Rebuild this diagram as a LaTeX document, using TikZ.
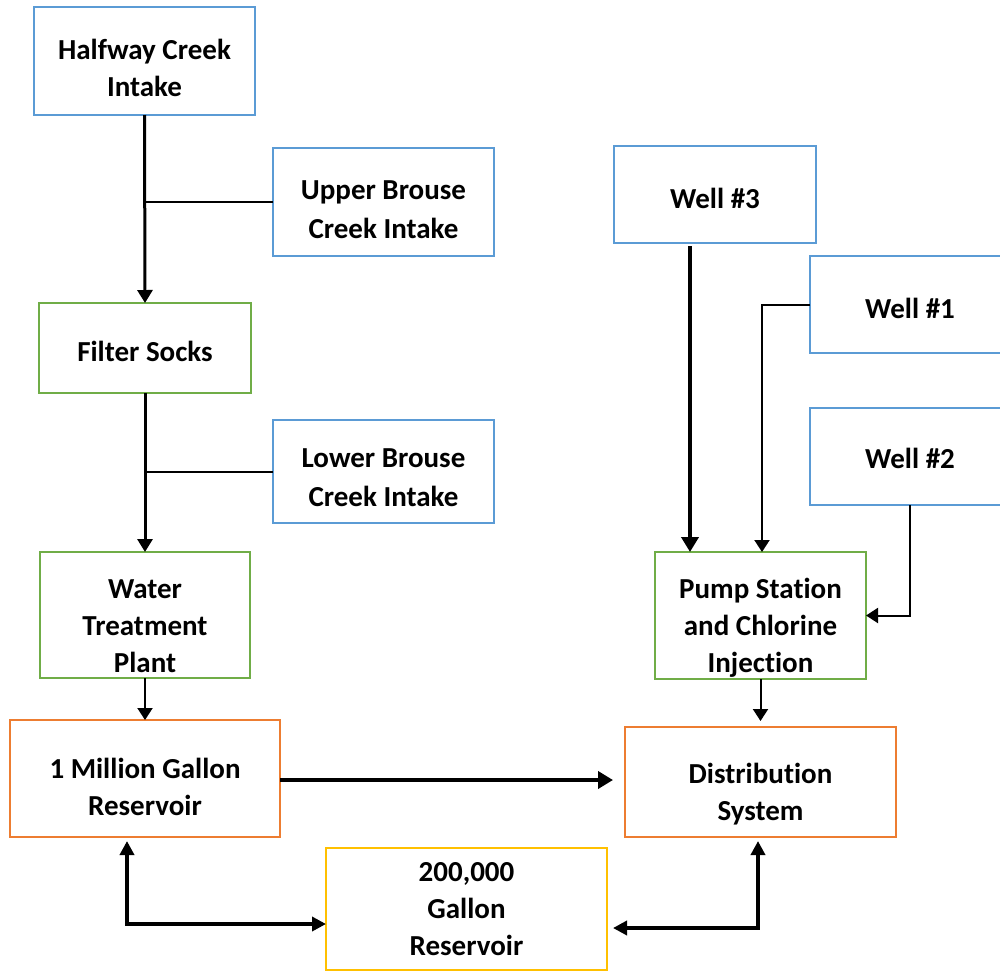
\documentclass[tikz,border=0pt]{standalone}
\usepackage{fontspec}
\setmainfont[Ligatures=NoCommon]{Carlito}
\usetikzlibrary{arrows.meta,calc}
\definecolor{cblue}{HTML}{5B9BD5}
\definecolor{cgreen}{HTML}{70AD47}
\definecolor{corange}{HTML}{ED7D31}
\definecolor{cgold}{HTML}{FFC000}
\begin{document}
\begin{tikzpicture}[x=1pt,y=-1pt,
  box/.style={draw=#1, line width=2pt, rectangle, inner sep=0pt, outer sep=0pt, fill=white},
  lbl/.style={font=\fontsize{29}{37}\selectfont\bfseries, align=center, inner sep=0pt},
  lblw/.style={font=\fontsize{29}{39}\selectfont\bfseries, align=center, inner sep=0pt},
  conn/.style={line width=2pt, -{Triangle[length=12pt,width=15pt]}},
  thickconn/.style={line width=3pt, -{Triangle[length=13pt,width=15pt]}},
  heavyconn/.style={line width=4.5pt, -{Triangle[length=15pt,width=17pt]}},
  dbl/.style={line width=4pt, {Triangle[length=14pt,width=14pt]}-{Triangle[length=14pt,width=14pt]}},
  plain/.style={line width=2pt}
]
\clip (0,0) rectangle (1000,972);
\fill[white] (0,0) rectangle (1000,972);

% boxes
\node[box=cblue, minimum width=221pt, minimum height=108pt] (hw) at (144.5,61) {};
\node[lbl, yshift=-7pt] (hwt) at (hw) {Halfway Creek\\Intake};
\node[box=cblue, minimum width=221pt, minimum height=108pt] (ub) at (383.5,202) {};
\node[lblw, yshift=-7.5pt] (ubt) at (ub) {Upper Brouse\\Creek Intake};
\node[box=cgreen, minimum width=212pt, minimum height=90pt] (fs) at (145,348) {};
\node[lbl, yshift=-3pt] (fst) at (fs) {Filter Socks};
\node[box=cblue, minimum width=221pt, minimum height=103pt] (lb) at (383.5,471.5) {};
\node[lblw, yshift=-6.5pt] (lbt) at (lb) {Lower Brouse\\Creek Intake};
\node[box=cgreen, minimum width=210pt, minimum height=126pt] (wtp) at (145,615) {};
\node[lbl, yshift=-11pt] (wtpt) at (wtp) {Water\\Treatment\\Plant};
\node[box=corange, minimum width=270pt, minimum height=117pt] (mg) at (145,778.5) {};
\node[lbl, yshift=-8pt] (mgt) at (mg) {1 Million Gallon\\Reservoir};
\node[box=cblue, minimum width=202pt, minimum height=97pt] (w3) at (715,194.5) {};
\node[lbl, yshift=-4pt] (w3t) at (w3) {Well \#3};
\node[box=cblue, minimum width=200pt, minimum height=97pt] (w1) at (910,304.5) {};
\node[lbl, yshift=-4pt] (w1t) at (w1) {Well \#1};
\node[box=cblue, minimum width=200pt, minimum height=97pt] (w2) at (910,456.5) {};
\node[lbl, yshift=-2pt] (w2t) at (w2) {Well \#2};
\node[box=cgreen, minimum width=211pt, minimum height=127pt] (pump) at (760.5,615.5) {};
\node[lbl, yshift=-12pt] (pumpt) at (pump) {Pump Station\\and Chlorine\\Injection};
\node[box=corange, minimum width=271pt, minimum height=110pt] (dist) at (760.5,782) {};
\node[lbl, yshift=-12pt] (distt) at (dist) {Distribution\\System};
\node[box=cgold, minimum width=281pt, minimum height=122pt] (res) at (466.5,909) {};
\node[lbl, yshift=0pt] (rest) at (res) {200,000\\Gallon\\Reservoir};

% left chain
\draw[thickconn] (hw.south) -- (fs.north);
\draw[plain] (ub.west) -- (ub.west -| hw.south);
\draw[thickconn] (fs.south) -- (wtp.north);
\draw[plain] (lb.west) -- (lb.west -| fs.south);
\draw[conn] (wtp.south) -- (mg.north);

% wells
\coordinate (w3o) at ($(w3.south)+(-25,3)$);
\draw[heavyconn] (w3o) -- (w3o |- pump.north);
\coordinate (w1k) at ($(pump.north)+(1.5,0)$);
\draw[conn] (w1.west) -| (w1k);
\draw[conn] (w2.south) |- (pump.east);
\draw[conn, shorten >=6pt] (pump.south) -- (dist.north);

% reservoirs
\draw[heavyconn, shorten >=12pt] (mg.east |- 0,780) -- (dist.west |- 0,780);
\coordinate (a1) at ($(mg.south)+(-18,4)$);
\coordinate (a2) at ($(res.west)+(0,15)$);
\draw[dbl] (a1) |- (a2);
\coordinate (b1) at ($(dist.south)+(-2.5,4)$);
\coordinate (b2) at ($(res.east)+(6,19)$);
\draw[dbl] (b1) |- (b2);
\end{tikzpicture}
\end{document}
